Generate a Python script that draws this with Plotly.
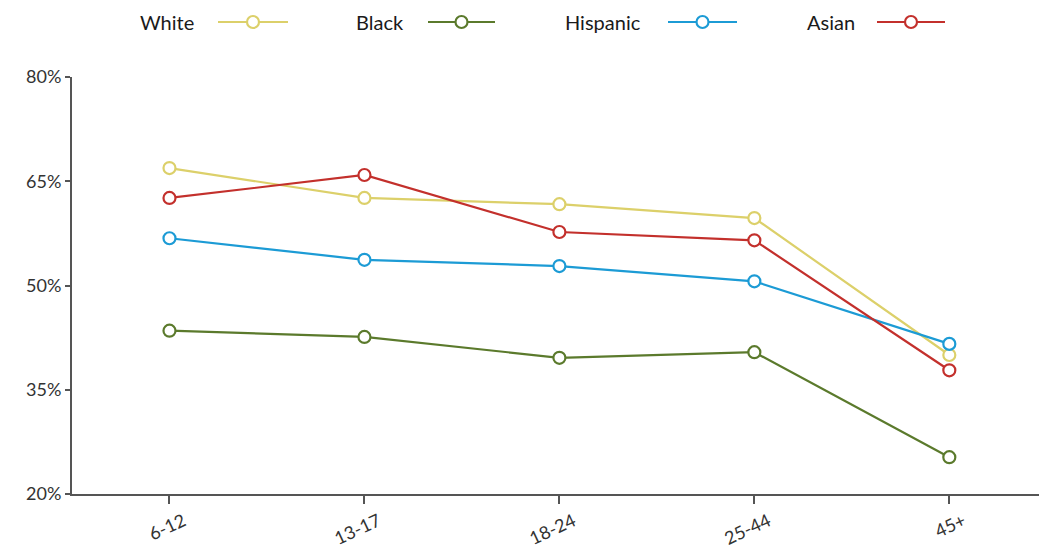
import plotly.graph_objects as go

# Age groups and share (%) by race/ethnicity
age_groups = ["6-12", "13-17", "18-24", "25-44", "45+"]
white = [66.9, 62.6, 61.7, 59.7, 40.0]
black = [43.5, 42.6, 39.6, 40.4, 25.3]
hispanic = [56.8, 53.7, 52.8, 50.6, 41.6]
asian = [62.6, 65.9, 57.7, 56.5, 37.8]

series_names = ["White", "Black", "Hispanic", "Asian"]
series_values = [white, black, hispanic, asian]
series_colors = ["#dcd06a", "#5b7a2c", "#1c9bd5", "#c3302c"]

y_ticks = [20, 35, 50, 65, 80]
y_tick_labels = ["20%", "35%", "50%", "65%", "80%"]

FONT = "Lato, 'Noto Sans', sans-serif"

# plot-area geometry in pixels, used to place the custom legend row
W, H = 1039, 550
M_L, M_R, M_T, M_B = 72, 0, 77, 56
PW, PH = W - M_L - M_R, H - M_T - M_B


def px_x(px):
    return (px - M_L) / PW


def px_y(py):
    return (H - M_B - py) / PH


fig = go.Figure()
for name, vals, col in zip(series_names, series_values, series_colors):
    fig.add_trace(go.Scatter(
        x=age_groups, y=vals, name=name, mode="lines+markers",
        line=dict(color=col, width=2.2),
        marker=dict(symbol="circle", size=12, color="white",
                    line=dict(color=col, width=2.2)),
        showlegend=False,
    ))

# Legend row: label text followed by a line-and-circle key
label_px = [138, 354, 563, 805]
key_px = [(218, 288), (428, 495), (668, 737), (877, 945)]
legend_y = 22
shapes = []
for px, (a, b), name, col in zip(label_px, key_px, series_names, series_colors):
    fig.add_annotation(x=px_x(px), y=px_y(legend_y), xref="paper", yref="paper",
                       text=name, showarrow=False, xanchor="left", yanchor="middle",
                       font=dict(size=20, color="#1a1a1a", family=FONT))
    c = (a + b) / 2
    shapes.append(dict(type="line", xref="paper", yref="paper",
                       x0=px_x(a), x1=px_x(b), y0=px_y(legend_y), y1=px_y(legend_y),
                       line=dict(color=col, width=2.2), layer="above"))
    shapes.append(dict(type="circle", xref="paper", yref="paper",
                       x0=px_x(c - 6), x1=px_x(c + 6),
                       y0=px_y(legend_y + 6), y1=px_y(legend_y - 6),
                       fillcolor="white", line=dict(color=col, width=2.2), layer="above"))

fig.update_layout(
    width=W, height=H,
    margin=dict(l=M_L, r=M_R, t=M_T, b=M_B),
    paper_bgcolor="white", plot_bgcolor="white",
    font=dict(family=FONT, color="#333333"),
    shapes=shapes,
    xaxis=dict(
        type="category", range=[-0.5, 4.46],
        showgrid=False, zeroline=False,
        showline=True, linecolor="#555555", linewidth=2,
        ticks="outside", ticklen=8, tickwidth=1.5, tickcolor="#555555",
        tickangle=-25, ticklabelshift=14,
        tickfont=dict(size=18, color="#333333", family=FONT),
    ),
    yaxis=dict(
        range=[20, 80], tickvals=y_ticks, ticktext=y_tick_labels,
        showgrid=False, zeroline=False,
        showline=True, linecolor="#555555", linewidth=2,
        ticks="outside", ticklen=5, tickwidth=1.5, tickcolor="#555555",
        tickfont=dict(size=18, color="#333333", family=FONT),
    ),
)

fig.write_html("out.html")
